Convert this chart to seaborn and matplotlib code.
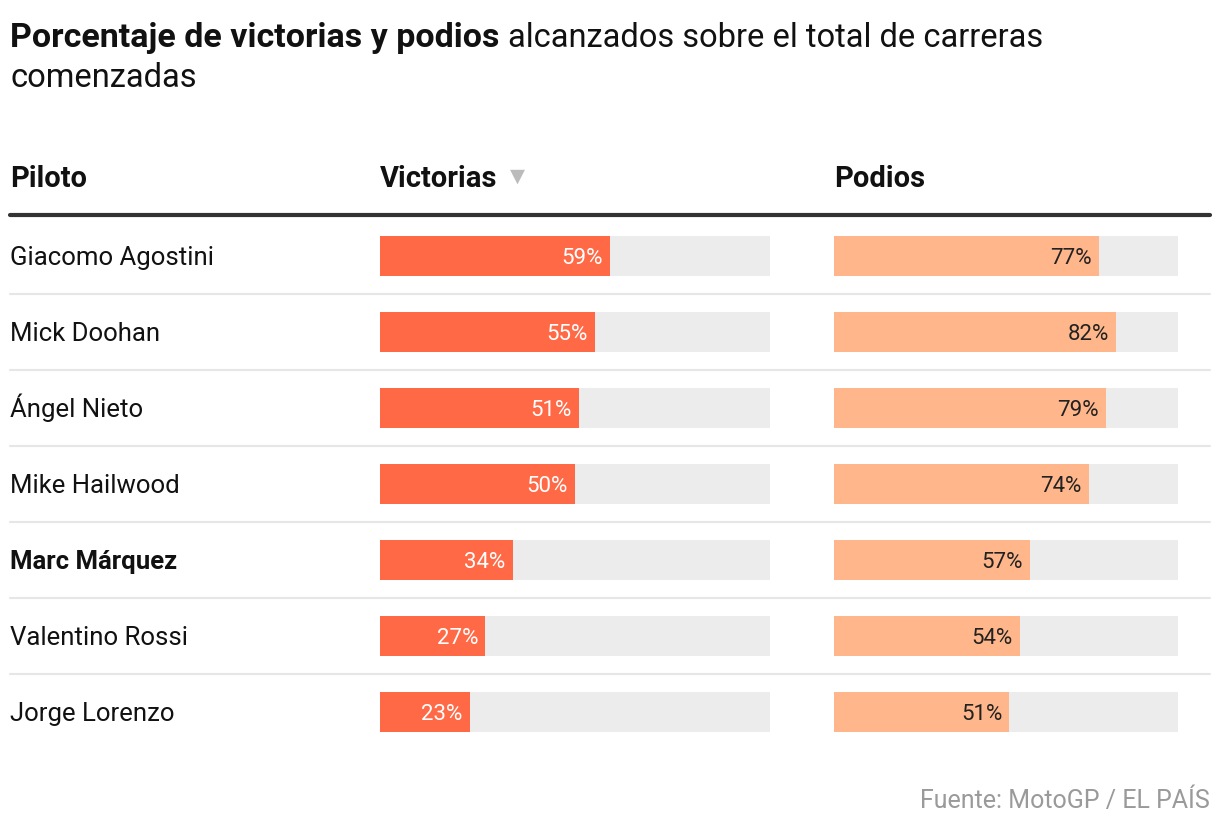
import matplotlib
matplotlib.use('Agg')
import matplotlib.pyplot as plt
from matplotlib.lines import Line2D
import seaborn as sns

# datos
pilotos = ['Giacomo Agostini', 'Mick Doohan', 'Ángel Nieto', 'Mike Hailwood',
           'Marc Márquez', 'Valentino Rossi', 'Jorge Lorenzo']
victorias = [59, 55, 51, 50, 34, 27, 23]
podios = [77, 82, 79, 74, 57, 54, 51]
destacado = 'Marc Márquez'

sns.set_theme(style='white')
plt.rcParams['font.family'] = ['Roboto', 'DejaVu Sans']

W, H = 1220, 832
fig = plt.figure(figsize=(W / 100, H / 100), dpi=100)


def rect(x, y, w, h):
    return [x / W, 1 - (y + h) / H, w / W, h / H]


def fx(x):
    return x / W


def fy(y):
    return 1 - y / H


# título (parte en negrita + parte normal)
t1 = fig.text(fx(10), fy(47), 'Porcentaje de victorias y podios', fontsize=24.5,
              fontweight='bold', color='#111111', va='baseline')
fig.canvas.draw()
bb = t1.get_window_extent()
fig.text((bb.x1 + 9) / W, fy(47), 'alcanzados sobre el total de carreras',
         fontsize=23.5, color='#111111', va='baseline')
fig.text(fx(10), fy(87), 'comenzadas', fontsize=23.5, color='#111111', va='baseline')

# cabeceras
fig.text(fx(10), fy(187), 'Piloto', fontsize=21, fontweight='bold', color='#111111', va='baseline')
h2 = fig.text(fx(380), fy(187), 'Victorias', fontsize=21, fontweight='bold', color='#111111', va='baseline')
fig.text(fx(834), fy(187), 'Podios', fontsize=21, fontweight='bold', color='#111111', va='baseline')
fig.canvas.draw()
bb2 = h2.get_window_extent()
fig.text((bb2.x1 + 12) / W, fy(176), '▼', fontsize=14, color='#bbbbbb', va='center',
         family=['DejaVu Sans'])

fig.add_artist(Line2D([fx(10), fx(1210)], [fy(215), fy(215)], color='#333333',
                      linewidth=3, transform=fig.transFigure))

# fondo: separadores y nombres
bg = fig.add_axes(rect(0, 218, W, 532))
bg.set_xlim(0, W)
bg.set_ylim(len(pilotos) - 0.5, -0.5)
bg.axis('off')
for i in range(len(pilotos) - 1):
    bg.plot([10, 1210], [i + 0.5, i + 0.5], color='#e6e6e6', linewidth=1.5)
for i, p in enumerate(pilotos):
    bg.text(10, i + 8.5 / 76, p, fontsize=18.5, color='#111111', va='baseline',
            fontweight='bold' if p == destacado else 'normal')

# barras
ancho = 40 / 76
for x0, w, vals, col, txtcol in [(380, 390, victorias, '#ff6946', 'white'),
                                  (834, 344, podios, '#ffb68a', '#222222')]:
    ax = fig.add_axes(rect(x0, 218, w, 532))
    sns.barplot(x=[100] * len(pilotos), y=pilotos, orient='h', color='#ececec',
                width=ancho, saturation=1, linewidth=0, ax=ax)
    sns.barplot(x=vals, y=pilotos, orient='h', color=col, width=ancho,
                saturation=1, linewidth=0, ax=ax)
    ax.set_xlim(0, 100)
    ax.set_ylim(len(pilotos) - 0.5, -0.5)
    ax.axis('off')
    for i, v in enumerate(vals):
        ax.annotate(f'{v}%', (v, i + 7.5 / 76), xytext=(-5, 0), textcoords='offset points',
                    ha='right', va='baseline', fontsize=16, color=txtcol)

fig.text(fx(1210), fy(808), 'Fuente: MotoGP / EL PAÍS', fontsize=18,
         color='#9a9a9a', ha='right', va='baseline')

fig.savefig('out.png', dpi=100)
